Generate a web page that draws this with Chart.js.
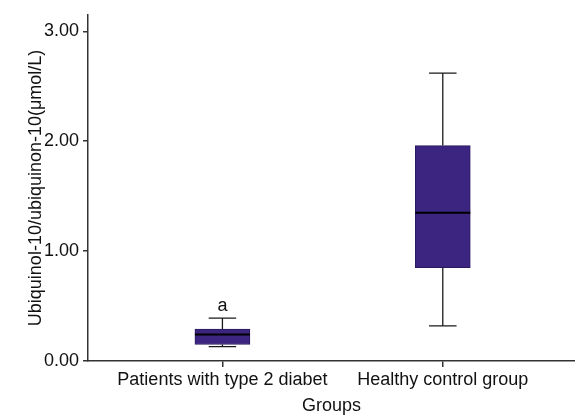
<!DOCTYPE html>
<html>
<head>
<meta charset="utf-8">
<script src="https://cdn.jsdelivr.net/npm/chart.js@4.4.0/dist/chart.umd.min.js"></script>
<style>
  html, body { margin: 0; padding: 0; background: #fff; }
  #wrap { width: 575px; height: 417px; }
</style>
</head>
<body>
<div id="wrap"><canvas id="canvas"></canvas></div>
<script>
// box plot values
var groups = ['Patients with type 2 diabet', 'Healthy control group'];
var groupPos = [1, 2];
var lowWhisker = [0.13, 0.32];
var q1 = [0.15, 0.85];
var median = [0.24, 1.35];
var q3 = [0.29, 1.96];
var highWhisker = [0.39, 2.62];
var marks = ['a', ''];
var yTicks = [0, 1, 2, 3];

var fontFam = "'Liberation Sans', Arial, sans-serif";
var axisCol = '#333333';

// whiskers, caps, median line and the "a" mark, drawn through the scales
var boxExtras = {
  id: 'boxExtras',
  afterDatasetsDraw: function(chart) {
    var ctx = chart.ctx;
    var xs = chart.scales.x, ys = chart.scales.y;
    var meta = chart.getDatasetMeta(0);
    ctx.save();
    for (var i = 0; i < groups.length; i++) {
      var bar = meta.data[i];
      var x = xs.getPixelForValue(groupPos[i]);
      var half = bar.width / 2;
      var cap = half / 2;
      ctx.strokeStyle = '#1a1a1a';
      ctx.lineWidth = 1.3;
      ctx.beginPath();
      ctx.moveTo(x, ys.getPixelForValue(q3[i]));
      ctx.lineTo(x, ys.getPixelForValue(highWhisker[i]));
      ctx.moveTo(x - cap, ys.getPixelForValue(highWhisker[i]));
      ctx.lineTo(x + cap, ys.getPixelForValue(highWhisker[i]));
      ctx.moveTo(x, ys.getPixelForValue(q1[i]));
      ctx.lineTo(x, ys.getPixelForValue(lowWhisker[i]));
      ctx.moveTo(x - cap, ys.getPixelForValue(lowWhisker[i]));
      ctx.lineTo(x + cap, ys.getPixelForValue(lowWhisker[i]));
      ctx.stroke();
      ctx.strokeStyle = '#000';
      ctx.lineWidth = 2;
      ctx.beginPath();
      ctx.moveTo(x - half, ys.getPixelForValue(median[i]));
      ctx.lineTo(x + half, ys.getPixelForValue(median[i]));
      ctx.stroke();
      if (marks[i]) {
        ctx.fillStyle = '#111';
        ctx.font = '18px ' + fontFam;
        ctx.textAlign = 'center';
        ctx.textBaseline = 'bottom';
        ctx.fillText(marks[i], x, ys.getPixelForValue(highWhisker[i]) - 3);
      }
    }
    ctx.restore();
  }
};

var boxData = groups.map(function(g, i) {
  return { x: groupPos[i], y: [q1[i], q3[i]] };
});

var ctx = document.getElementById('canvas').getContext('2d');
window.myBox = new Chart(ctx, {
  type: 'bar',
  data: {
    datasets: [{
      data: boxData,
      backgroundColor: '#3b2580',
      borderColor: '#2a1a60',
      borderWidth: 1,
      borderSkipped: false,
      barThickness: 55
    }]
  },
  options: {
    responsive: true,
    maintainAspectRatio: false,
    animation: false,
    layout: { padding: { top: 11, right: 0, bottom: 0, left: 0 } },
    plugins: {
      legend: { display: false },
      tooltip: { enabled: false }
    },
    scales: {
      x: {
        type: 'linear',
        offset: false,
        min: 0.39,
        max: 2.6,
        afterBuildTicks: function(axis) {
          axis.ticks = groupPos.map(function(v) { return { value: v }; });
        },
        afterFit: function(axis) { axis.height = 56; },
        ticks: {
          color: '#111',
          font: { family: fontFam, size: 18 },
          padding: 2,
          maxRotation: 0,
          autoSkip: false,
          callback: function(v) {
            var k = groupPos.indexOf(v);
            return k >= 0 ? groups[k] : '';
          }
        },
        grid: { offset: false, drawOnChartArea: false, drawTicks: true, tickLength: 6, color: axisCol, lineWidth: 1.5 },
        border: { display: true, color: axisCol, width: 1.5 },
        title: {
          display: true,
          text: 'Groups',
          color: '#111',
          font: { family: fontFam, size: 18 },
          padding: { top: 0, bottom: 0 }
        }
      },
      y: {
        min: 0,
        max: 3.15,
        afterBuildTicks: function(axis) {
          axis.ticks = yTicks.map(function(v) { return { value: v }; });
        },
        afterFit: function(axis) { axis.width = 88; },
        ticks: {
          color: '#111',
          font: { family: fontFam, size: 18 },
          padding: 4,
          callback: function(v) { return v.toFixed(2); }
        },
        grid: { drawOnChartArea: false, drawTicks: true, tickLength: 5, color: axisCol, lineWidth: 1.5 },
        border: { display: true, color: axisCol, width: 1.5 },
        title: {
          display: true,
          text: 'Ubiquinol-10/ubiquinon-10(\u03bcmol/L)',
          color: '#111',
          font: { family: fontFam, size: 18 },
          padding: { top: 25, bottom: 0 }
        }
      }
    }
  },
  plugins: [boxExtras]
});
</script>
</body>
</html>
